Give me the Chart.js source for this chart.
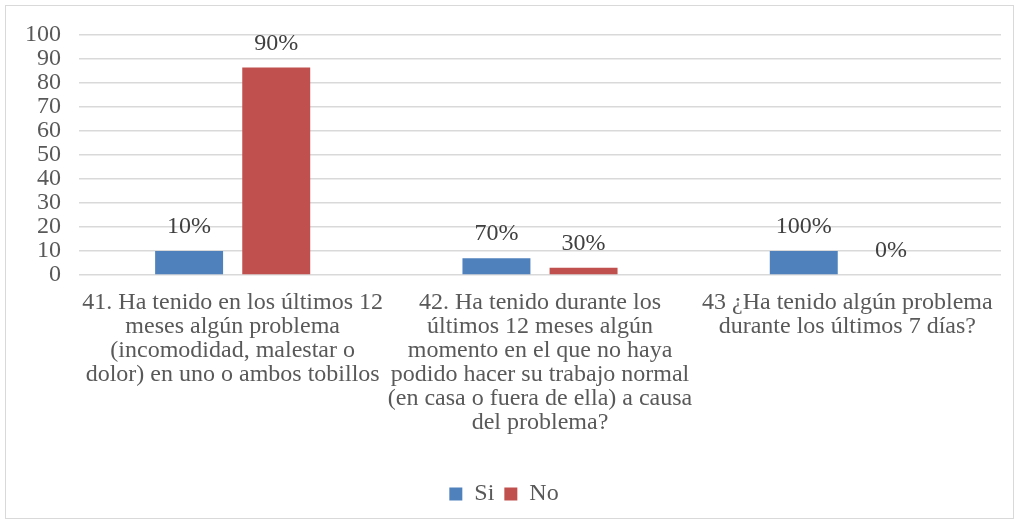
<!DOCTYPE html>
<html>
<head>
<meta charset="utf-8">
<script src="https://cdn.jsdelivr.net/npm/chart.js@4/dist/chart.umd.min.js"></script>
<style>
  html, body { margin: 0; padding: 0; background: #fff; }
  #wrap { width: 1019px; height: 524px; position: relative; }
</style>
</head>
<body>
<div id="wrap"><canvas id="myChart" width="1019" height="524"></canvas></div>
<script>
// datos del grafico
var categorias = [
    ["41. Ha tenido en los últimos 12", "meses algún problema", "(incomodidad, malestar o", "dolor) en uno o ambos tobillos"],
    ["42. Ha tenido durante los", "últimos 12 meses algún", "momento en el que no haya", "podido hacer su trabajo normal", "(en casa o fuera de ella) a causa", "del problema?"],
    ["43 ¿Ha tenido algún problema", "durante los últimos 7 días?"]
];
var valoresSi = [10, 7, 10];
var valoresNo = [86.5, 3, 0];
var etiquetasSi = ["10%", "70%", "100%"];
var etiquetasNo = ["90%", "30%", "0%"];
var ticksY = [0, 10, 20, 30, 40, 50, 60, 70, 80, 90, 100];

var fuente = "'Liberation Serif', 'Times New Roman', serif";

// borde exterior del grafico
var bordePlugin = {
    id: 'borde',
    beforeDraw: function (chart) {
        var ctx = chart.ctx;
        ctx.save();
        ctx.fillStyle = '#ffffff';
        ctx.fillRect(0, 0, chart.width, chart.height);
        ctx.strokeStyle = '#d9d9d9';
        ctx.lineWidth = 1;
        ctx.strokeRect(5.5, 5.5, chart.width - 11, chart.height - 11);
        ctx.restore();
    }
};

// etiquetas encima de las barras
var etiquetasPlugin = {
    id: 'etiquetas',
    afterDatasetsDraw: function (chart) {
        var ctx = chart.ctx;
        var textos = [etiquetasSi, etiquetasNo];
        ctx.save();
        ctx.font = '24px ' + fuente;
        ctx.fillStyle = '#404040';
        ctx.textAlign = 'center';
        ctx.textBaseline = 'middle';
        chart.data.datasets.forEach(function (ds, i) {
            chart.getDatasetMeta(i).data.forEach(function (bar, j) {
                ctx.fillText(textos[i][j], bar.x, bar.y - 24);
            });
        });
        ctx.restore();
    }
};

var bieudo = new Chart("myChart", {
    type: "bar",
    data: {
        labels: categorias,
        datasets: [{
            label: 'Si',
            data: valoresSi,
            backgroundColor: "#4F81BD",
            categoryPercentage: 0.567,
            barPercentage: 0.78
        }, {
            label: 'No',
            data: valoresNo,
            backgroundColor: "#C0504D",
            categoryPercentage: 0.567,
            barPercentage: 0.78
        }]
    },
    options: {
        responsive: false,
        animation: false,
        layout: { padding: { left: 7, right: 18, top: 35, bottom: 8 } },
        plugins: {
            tooltip: { enabled: false },
            legend: {
                position: 'bottom',
                labels: {
                    boxWidth: 13,
                    boxHeight: 13,
                    padding: 10,
                    color: '#595959',
                    font: { family: fuente, size: 24 }
                }
            }
        },
        scales: {
            y: {
                min: 0,
                max: 100,
                afterBuildTicks: function (axis) {
                    axis.ticks = ticksY.map(function (v) { return { value: v }; });
                },
                grid: { color: '#d9d9d9', lineWidth: 1.5, drawTicks: false },
                border: { display: false },
                ticks: {
                    color: '#595959',
                    padding: 18,
                    autoSkip: false,
                    font: { family: fuente, size: 24, lineHeight: 1 }
                }
            },
            x: {
                afterFit: function (axis) {
                    axis.height += 21;
                },
                grid: { display: false, drawTicks: false },
                border: { display: false },
                ticks: {
                    color: '#595959',
                    padding: 16,
                    maxRotation: 0,
                    autoSkip: false,
                    font: { family: fuente, size: 24, lineHeight: 1 }
                }
            }
        }
    },
    plugins: [bordePlugin, etiquetasPlugin]
});
</script>
</body>
</html>
